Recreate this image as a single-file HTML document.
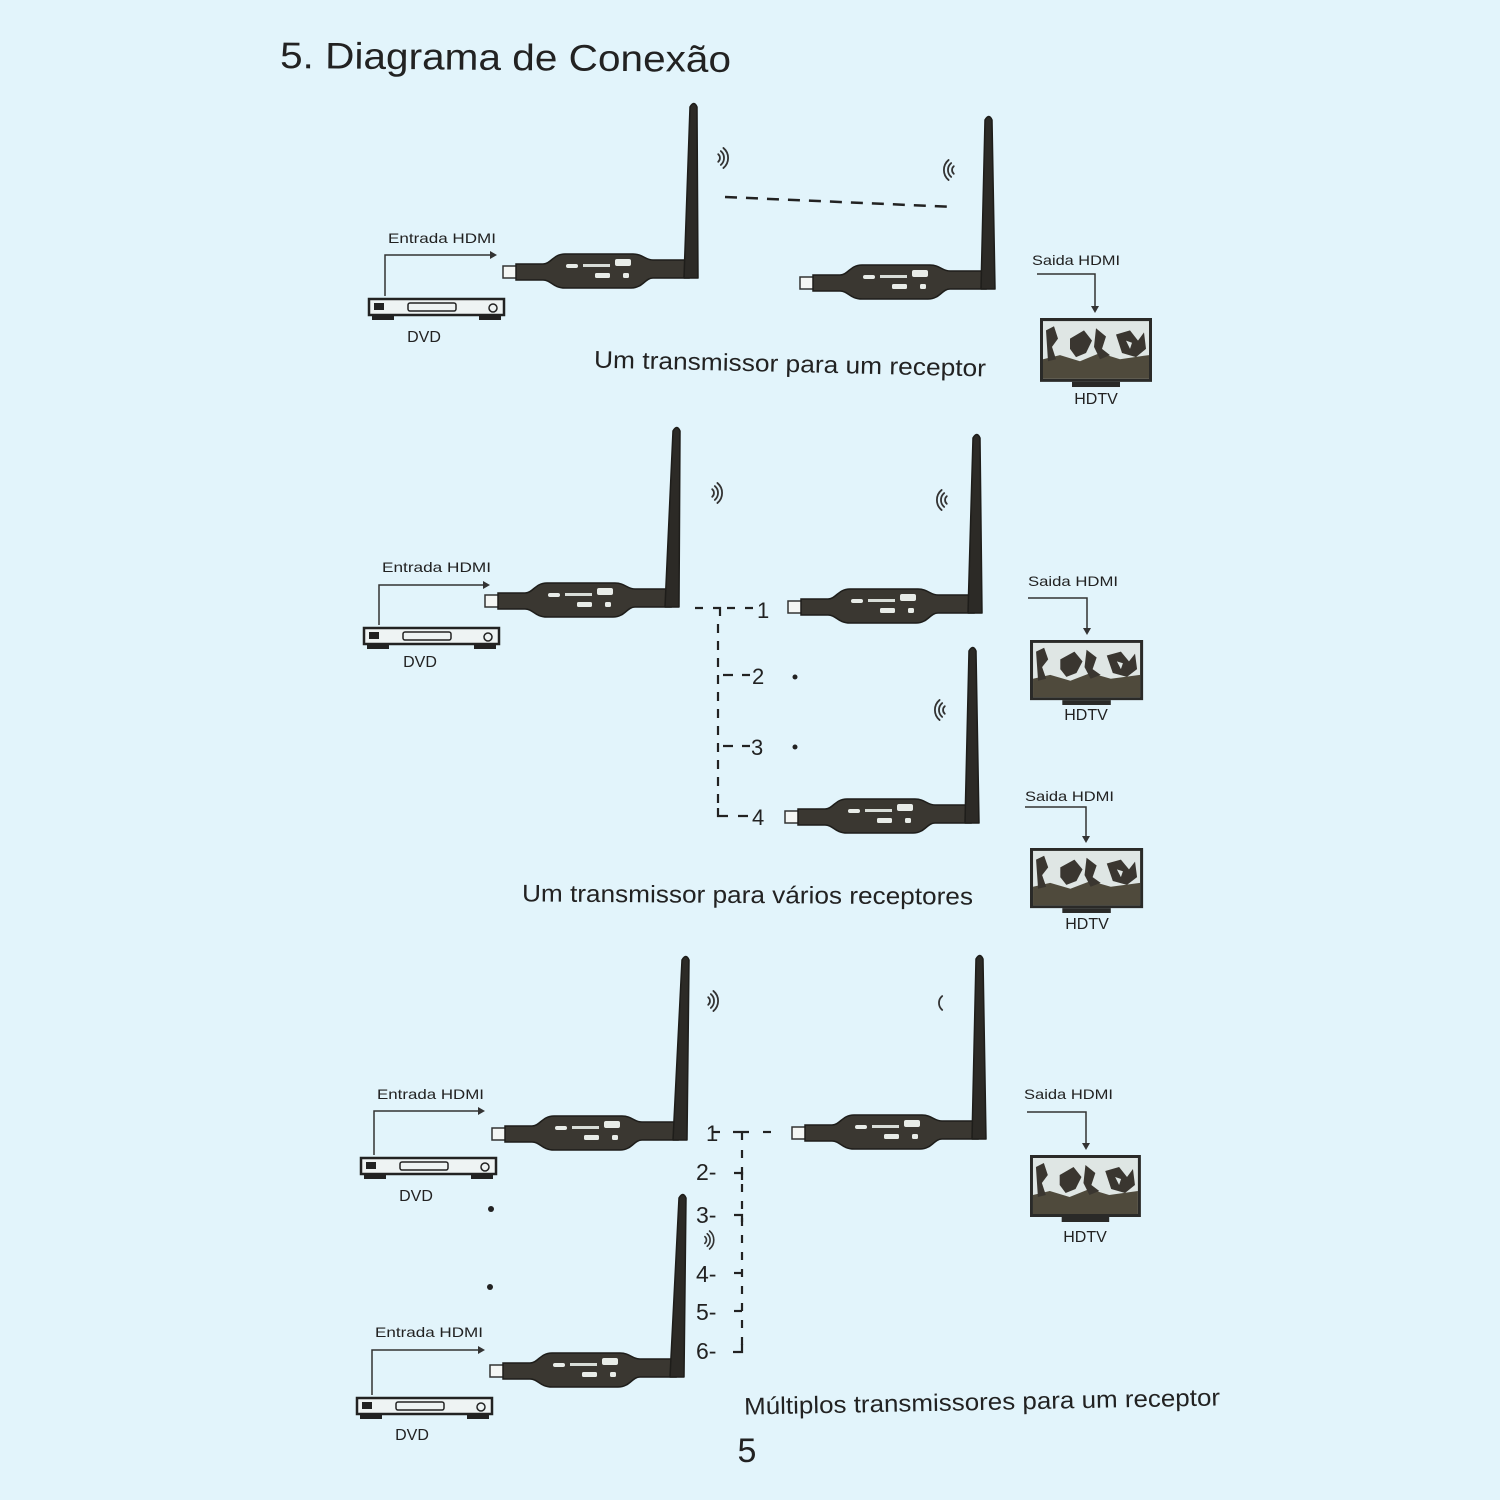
<!DOCTYPE html>
<html><head><meta charset="utf-8"><style>
html,body{margin:0;padding:0;background:#e2f4fb;}
svg{display:block;}
text{font-family:"Liberation Sans",sans-serif;fill:#222;}
</style></head><body>
<svg width="1500" height="1500" viewBox="0 0 1500 1500" xmlns="http://www.w3.org/2000/svg">
<rect width="1500" height="1500" fill="#e2f4fb"/>
<defs>
  <g id="dev">
    <rect x="0" y="-6" width="14" height="12" fill="#f4f6f4" stroke="#333" stroke-width="1.5"/>
    <path d="M13,-8 L40,-8 C48,-8 50,-18 62,-18 L130,-18 C140,-18 142,-12 150,-12 L186,-12 L186,6 L150,6 C142,6 140,16 128,16 L62,16 C50,16 48,8 40,8 L13,8 Z" fill="#3a3731" stroke="#1e1d1a" stroke-width="1.5"/>
    <rect x="63" y="-8" width="12" height="4" rx="2" fill="#e8ece8"/>
    <rect x="80" y="-8" width="27" height="3" fill="#d8ddd8"/>
    <rect x="112" y="-13" width="16" height="7" rx="2" fill="#e8ece8"/>
    <rect x="92" y="1" width="15" height="5" rx="1.5" fill="#e8ece8"/>
    <rect x="120" y="1" width="6" height="5" rx="1.5" fill="#e8ece8"/>
  </g>
  <g id="wr" fill="none" stroke="#333" stroke-width="1.8" stroke-linecap="round">
    <path d="M3.2,-3.8 A5,5 0 0 1 3.2,3.8"/>
    <path d="M5.8,-6.9 A9,9 0 0 1 5.8,6.9"/>
    <path d="M8.4,-10 A13,13 0 0 1 8.4,10"/>
  </g>
  <g id="dvd">
    <rect x="1" y="1" width="135" height="16" fill="#eef3f3" stroke="#222" stroke-width="2.5"/>
    <rect x="6" y="5" width="10" height="7" fill="#222"/>
    <rect x="40" y="5" width="48" height="8" rx="2" fill="none" stroke="#222" stroke-width="1.5"/>
    <circle cx="125" cy="10" r="4" fill="none" stroke="#222" stroke-width="1.5"/>
    <rect x="4" y="17" width="22" height="5" fill="#222"/>
    <rect x="111" y="17" width="22" height="5" fill="#222"/>
  </g>
  <g id="tv">
    <rect x="0" y="0" width="112" height="62" fill="#2a2a28"/>
    <rect x="3" y="3" width="106" height="56" fill="#dfe6e4"/>
    <path d="M3,40 L20,36 L40,42 L60,34 L80,40 L109,36 L109,59 L3,59 Z" fill="#4f4a3c"/>
    <path d="M6,12 L14,8 L18,20 L12,28 L16,40 L8,42 Z" fill="#3a3630"/>
    <path d="M30,20 L44,12 L52,22 L46,34 L36,38 L30,30 Z" fill="#3a3630"/>
    <path d="M56,10 L66,18 L62,30 L70,36 L60,40 L54,28 Z" fill="#3a3630"/>
    <path d="M76,16 L90,12 L98,22 L104,14 L106,30 L96,38 L82,34 Z" fill="#3a3630"/>
    <path d="M20,30 L28,26 L26,36 Z M86,22 L92,24 L90,30 Z" fill="#dfe6e4"/>
    <rect x="32" y="62" width="48" height="5" fill="#2a2a28"/>
  </g>
</defs>

<!-- Title -->
<text x="280" y="70" font-size="37" textLength="451" lengthAdjust="spacingAndGlyphs" transform="rotate(0.5 505 62)">5. Diagrama de Conexão</text>

<!-- ============ SECTION 1 ============ -->
<g transform="translate(503,272)">
  <use href="#dev"/>
  <path d="M181,6 L195,6 L194,-165 Q191,-172 187,-165 Z" fill="#2c2a26" stroke="#1e1d1a" stroke-width="1.5" stroke-linejoin="round"/>
</g>
<g transform="translate(800,283)">
  <use href="#dev"/>
  <path d="M181,6 L195,6 L192,-163 Q189,-170 185,-163 Z" fill="#2c2a26" stroke="#1e1d1a" stroke-width="1.5" stroke-linejoin="round"/>
</g>
<use href="#wr" transform="translate(715,158)"/>
<use href="#wr" transform="translate(957,170) scale(-1,1)"/>
<line x1="725" y1="197" x2="955" y2="207" stroke="#222" stroke-width="2.5" stroke-dasharray="12 9"/>

<use href="#dvd" transform="translate(368,298)"/>
<text x="388" y="243" font-size="14" textLength="108" lengthAdjust="spacingAndGlyphs">Entrada HDMI</text>
<path d="M385,296 V255 H490" fill="none" stroke="#333" stroke-width="1.5"/>
<path d="M490,251 L497,255 L490,259 Z" fill="#333"/>
<text x="424" y="342" font-size="16" text-anchor="middle">DVD</text>

<text x="1032" y="265" font-size="14" textLength="88" lengthAdjust="spacingAndGlyphs">Saida HDMI</text>
<path d="M1037,274 H1095 V306" fill="none" stroke="#333" stroke-width="1.5"/>
<path d="M1091,306 L1095,313 L1099,306 Z" fill="#333"/>
<use href="#tv" transform="translate(1040,318) scale(1,1.03)"/>
<text x="1096" y="404" font-size="16" text-anchor="middle" fill="#333">HDTV</text>

<text x="594" y="372" font-size="24" textLength="392" lengthAdjust="spacingAndGlyphs" transform="rotate(1.3 790 366)">Um transmissor para um receptor</text>

<!-- ============ SECTION 2 ============ -->
<g transform="translate(485,601)">
  <use href="#dev"/>
  <path d="M180,6 L194,6 L195,-170 Q192,-177 188,-170 Z" fill="#2c2a26" stroke="#1e1d1a" stroke-width="1.5" stroke-linejoin="round"/>
</g>
<g transform="translate(788,607)">
  <use href="#dev"/>
  <path d="M180,6 L194,6 L192,-169 Q189,-176 185,-169 Z" fill="#2c2a26" stroke="#1e1d1a" stroke-width="1.5" stroke-linejoin="round"/>
</g>
<g transform="translate(785,817)">
  <use href="#dev"/>
  <path d="M180,6 L194,6 L191,-166 Q188,-173 184,-166 Z" fill="#2c2a26" stroke="#1e1d1a" stroke-width="1.5" stroke-linejoin="round"/>
</g>
<use href="#wr" transform="translate(709,493)"/>
<use href="#wr" transform="translate(950,500) scale(-1,1)"/>
<use href="#wr" transform="translate(948,710) scale(-1,1)"/>

<g stroke="#222" stroke-width="2.2" fill="none">
  <path d="M695,608 H703 M713,608 H720 V616"/>
  <path d="M727,608 H735 M745,608 H753"/>
  <line x1="718" y1="624" x2="718" y2="808" stroke-dasharray="9 8"/>
  <path d="M723,675 H733 M742,675 H750"/>
  <path d="M723,746 H733 M742,746 H750"/>
  <path d="M718,808 V816 H728 M738,816 H748"/>
</g>
<text x="757" y="618" font-size="22">1</text>
<text x="752" y="684" font-size="22">2</text>
<text x="751" y="755" font-size="22">3</text>
<text x="752" y="825" font-size="22">4</text>
<circle cx="795" cy="677" r="2.5" fill="#222"/>
<circle cx="795" cy="747" r="2.5" fill="#222"/>

<use href="#dvd" transform="translate(363,627)"/>
<text x="382" y="572" font-size="14" textLength="109" lengthAdjust="spacingAndGlyphs">Entrada HDMI</text>
<path d="M379,625 V585 H483" fill="none" stroke="#333" stroke-width="1.5"/>
<path d="M483,581 L490,585 L483,589 Z" fill="#333"/>
<text x="420" y="667" font-size="16" text-anchor="middle">DVD</text>

<text x="1028" y="586" font-size="14" textLength="90" lengthAdjust="spacingAndGlyphs">Saida HDMI</text>
<path d="M1028,598 H1087 V628" fill="none" stroke="#333" stroke-width="1.5"/>
<path d="M1083,628 L1087,635 L1091,628 Z" fill="#333"/>
<use href="#tv" transform="translate(1030,640) scale(1.01,0.97)"/>
<text x="1086" y="720" font-size="16" text-anchor="middle" fill="#333">HDTV</text>

<text x="1025" y="801" font-size="14" textLength="89" lengthAdjust="spacingAndGlyphs">Saida HDMI</text>
<path d="M1025,807 H1086 V836" fill="none" stroke="#333" stroke-width="1.5"/>
<path d="M1082,836 L1086,843 L1090,836 Z" fill="#333"/>
<use href="#tv" transform="translate(1030,848) scale(1.01,0.97)"/>
<text x="1087" y="929" font-size="16" text-anchor="middle" fill="#333">HDTV</text>

<text x="522" y="903" font-size="24" textLength="451" lengthAdjust="spacingAndGlyphs" transform="rotate(0.4 748 896)">Um transmissor para vários receptores</text>

<!-- ============ SECTION 3 ============ -->
<g transform="translate(492,1134)">
  <use href="#dev"/>
  <path d="M181,6 L195,6 L197,-174 Q194,-181 190,-174 Z" fill="#2c2a26" stroke="#1e1d1a" stroke-width="1.5" stroke-linejoin="round"/>
</g>
<g transform="translate(792,1133)">
  <use href="#dev"/>
  <path d="M180,6 L194,6 L191,-174 Q188,-181 184,-174 Z" fill="#2c2a26" stroke="#1e1d1a" stroke-width="1.5" stroke-linejoin="round"/>
</g>
<g transform="translate(490,1371)">
  <use href="#dev"/>
  <path d="M180,6 L194,6 L196,-173 Q193,-180 189,-173 Z" fill="#2c2a26" stroke="#1e1d1a" stroke-width="1.5" stroke-linejoin="round"/>
</g>
<use href="#wr" transform="translate(705,1001)"/>
<g transform="translate(948,1003) scale(-1,1)" fill="none" stroke="#333" stroke-width="1.8" stroke-linecap="round">
  <path d="M5.8,-6.9 A9,9 0 0 1 5.8,6.9"/>
</g>
<use href="#wr" transform="translate(702,1240) scale(0.9)"/>

<!-- connector tree -->
<text x="706" y="1141" font-size="22">1</text>
<g stroke="#222" stroke-width="2.2" fill="none">
  <path d="M712,1132 H720"/>
  <path d="M733,1132 H749 M742,1132 V1140"/>
  <path d="M763,1132 H771"/>
  <line x1="742" y1="1150" x2="742" y2="1350" stroke-dasharray="8 9"/>
  <path d="M734,1173 H742 V1180"/>
  <path d="M734,1215 H742 V1222"/>
  <path d="M734,1273 H742"/>
  <path d="M734,1311 H742"/>
  <path d="M742,1344 V1352 H733"/>
</g>
<text x="696" y="1180" font-size="23">2-</text>
<text x="696" y="1223" font-size="23">3-</text>
<text x="696" y="1282" font-size="23">4-</text>
<text x="696" y="1320" font-size="23">5-</text>
<text x="696" y="1359" font-size="23">6-</text>

<use href="#dvd" transform="translate(360,1157)"/>
<text x="377" y="1099" font-size="14" textLength="107" lengthAdjust="spacingAndGlyphs">Entrada HDMI</text>
<path d="M374,1155 V1111 H478" fill="none" stroke="#333" stroke-width="1.5"/>
<path d="M478,1107 L485,1111 L478,1115 Z" fill="#333"/>
<text x="416" y="1201" font-size="16" text-anchor="middle">DVD</text>
<circle cx="491" cy="1209" r="3" fill="#222"/>
<circle cx="490" cy="1287" r="3" fill="#222"/>

<use href="#dvd" transform="translate(356,1397)"/>
<text x="375" y="1337" font-size="14" textLength="108" lengthAdjust="spacingAndGlyphs">Entrada HDMI</text>
<path d="M372,1395 V1350 H478" fill="none" stroke="#333" stroke-width="1.5"/>
<path d="M478,1346 L485,1350 L478,1354 Z" fill="#333"/>
<text x="412" y="1440" font-size="16" text-anchor="middle">DVD</text>

<text x="1024" y="1099" font-size="14" textLength="89" lengthAdjust="spacingAndGlyphs">Saida HDMI</text>
<path d="M1027,1112 H1086 V1143" fill="none" stroke="#333" stroke-width="1.5"/>
<path d="M1082,1143 L1086,1150 L1090,1143 Z" fill="#333"/>
<use href="#tv" transform="translate(1030,1155) scale(0.99,1)"/>
<text x="1085" y="1242" font-size="16" text-anchor="middle" fill="#333">HDTV</text>

<text x="744" y="1410" font-size="24" textLength="476" lengthAdjust="spacingAndGlyphs" transform="rotate(-1.1 982 1400)">Múltiplos transmissores para um receptor</text>

<text x="747" y="1462" font-size="34" text-anchor="middle">5</text>
</svg>
</body></html>
